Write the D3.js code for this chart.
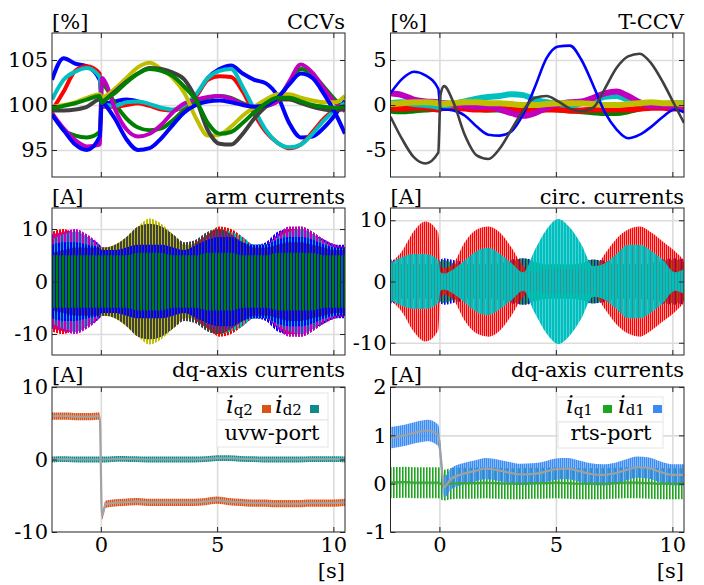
<!DOCTYPE html>
<html>
<head>
<meta charset="utf-8">
<script src="https://cdn.jsdelivr.net/npm/d3@7"></script>
<style>body{margin:0;background:#fff}</style>
</head>
<body>
<script>
'use strict';

const W = 704;
const H = 585;

// ---- data ----
// time base [s] for the upper four panels
const tTop = [-2.1, -1.6, -1.1, -0.6, -0.05, 0.05, 0.2, 0.6, 1.1, 1.6, 2.1, 2.6, 3.1, 3.6,
  4.1, 4.6, 5.1, 5.6, 6.1, 6.6, 7.1, 7.6, 8.1, 8.6, 9.1, 9.6, 10.1, 10.5];
// time base [s] for the dq panels
const tDq = [-2.1, -1.5, -1, -0.5, -0.05, 0.05, 0.2, 0.5, 1, 1.5, 2, 2.5, 3, 3.5, 4,
  4.5, 5, 5.5, 6, 6.5, 7, 7.5, 8, 8.5, 9, 9.5, 10, 10.5];

const xTicks = [0, 5, 10];

// CCVs [%]  (arm order b g r c m y k b g)
const ccvBlueA  = [102.8, 105.2, 104.6, 104.3, 102.8, 100.2, 100.2, 100.4, 100.6, 100.4, 100.0, 99.6, 99.4, 99.9, 101.0, 103.0, 104.0, 104.4, 103.5, 102.8, 102.4, 101.0, 98.0, 96.4, 96.5, 97.5, 99.0, 100.5];
const ccvGreenA = [99.1, 97.2, 96.6, 96.4, 97.0, 102.4, 102.0, 100.2, 98.5, 97.5, 97.2, 97.4, 98.3, 99.5, 100.3, 100.8, 101.0, 100.8, 100.2, 99.8, 99.9, 100.6, 102.5, 104.0, 103.4, 102.0, 100.5, 99.5];
const ccvRed    = [99.4, 101.5, 103.8, 104.3, 103.5, 99.8, 99.8, 99.8, 100.0, 100.2, 99.9, 99.5, 99.4, 99.9, 101.0, 102.8, 103.2, 103.1, 101.5, 99.0, 97.0, 95.8, 95.2, 95.6, 97.0, 98.5, 99.6, 100.1];
const ccvCyan   = [100.6, 102.8, 103.7, 104.1, 103.1, 100.0, 100.0, 99.9, 100.3, 100.4, 100.1, 99.7, 99.5, 100.0, 101.2, 103.0, 103.8, 104.0, 102.0, 99.5, 97.2, 95.8, 95.3, 95.6, 96.8, 98.3, 99.5, 100.2];
const ccvMag    = [99.1, 97.4, 96.1, 95.4, 95.6, 103.0, 102.5, 99.6, 97.3, 96.5, 96.8, 97.8, 99.2, 100.2, 100.6, 100.9, 101.0, 100.7, 100.1, 99.8, 99.9, 100.4, 102.6, 104.5, 103.6, 101.8, 100.2, 99.3];
const ccvYellow = [99.8, 100.0, 100.3, 100.8, 101.2, 100.8, 101.0, 101.8, 103.0, 104.2, 104.7, 104.0, 103.0, 101.3, 98.5, 96.6, 96.7, 97.6, 98.8, 99.8, 100.6, 101.2, 101.2, 100.8, 100.5, 100.3, 100.3, 101.0];
const ccvGray   = [99.4, 99.4, 99.5, 99.8, 100.6, 100.3, 100.6, 101.5, 102.6, 103.5, 104.1, 104.0, 103.6, 102.8, 100.6, 97.2, 95.7, 95.6, 96.8, 98.5, 99.8, 100.6, 100.6, 100.2, 99.8, 99.5, 99.4, 99.6];
const ccvBlueB  = [98.9, 97.2, 95.6, 95.0, 96.5, 100.5, 100.0, 98.5, 96.2, 95.0, 95.2, 96.3, 97.8, 99.2, 100.0, 100.4, 100.5, 100.3, 100.0, 99.8, 100.0, 100.8, 102.3, 103.5, 103.0, 101.2, 99.0, 96.8];
const ccvGreenB = [99.6, 99.9, 100.2, 100.6, 101.0, 100.2, 100.6, 101.3, 102.5, 103.5, 104.0, 103.8, 103.2, 102.0, 100.5, 98.0, 96.8, 97.0, 98.0, 99.2, 100.2, 100.8, 100.8, 100.4, 100.0, 99.8, 99.7, 99.9];

// T-CCV [%]
const tcGreen  = [-0.6, -0.7, -0.6, -0.5, -0.4, -0.3, -0.3, -0.3, -0.3, -0.4, -0.5, -0.5, -0.6, -0.4, -0.3, -0.4, -0.5, -0.6, -0.7, -0.8, -0.9, -0.9, -0.7, -0.4, -0.2, -0.2, -0.3, -0.3];
const tcRed    = [-0.3, -0.4, -0.3, -0.3, -0.5, -0.4, -0.3, -0.3, -0.4, -0.5, -0.5, -0.4, -0.5, -0.6, -0.6, -0.5, -0.5, -0.6, -0.6, -0.5, -0.5, -0.5, -0.5, -0.4, -0.3, -0.3, -0.4, -0.4];
const tcCyan   = [0.2, 0.3, 0.1, 0.0, -0.2, -0.3, -0.2, 0.1, 0.4, 0.7, 0.9, 1.0, 1.2, 1.1, 0.6, 0.3, 0.1, 0.0, 0.2, 0.5, 0.9, 1.0, 0.6, 0.2, 0.0, 0.1, 0.2, 0.2];
const tcMag    = [1.3, 1.1, 0.6, 0.4, 0.3, 0.2, 0.2, 0.1, -0.1, -0.2, -0.2, -0.5, -0.9, -1.2, -0.9, -0.3, 0.1, 0.3, 0.4, 0.8, 1.3, 1.5, 1.0, 0.3, -0.1, -0.1, -0.2, -0.3];
const tcYellow = [0.1, 0.2, 0.3, 0.3, 0.2, 0.1, 0.1, 0.2, 0.3, 0.3, 0.2, 0.2, 0.1, 0.0, 0.0, 0.1, 0.2, 0.2, 0.2, 0.1, 0.0, 0.0, 0.1, 0.2, 0.3, 0.2, 0.2, 0.1];
const tcBlue   = [1.3, 2.9, 3.7, 3.3, 1.8, -0.5, -0.5, -0.6, -1.2, -2.4, -3.3, -3.4, -2.9, -1.0, 2.0, 5.2, 6.5, 6.6, 5.0, 2.2, -0.8, -2.7, -3.7, -3.3, -2.4, -1.3, -0.5, -0.8];
const tcGray   = [-1.3, -3.8, -5.8, -6.5, -5.3, 1.2, 2.1, 0.3, -3.4, -5.6, -6.0, -4.8, -2.7, -0.6, 0.8, 1.0, 0.4, -0.4, -0.7, -0.3, 1.8, 4.1, 5.4, 5.7, 4.6, 2.5, 0.0, -2.0];

// arm currents: oscillation envelope amplitude [A]
const armBlueA  = [7.5, 9, 9.5, 8.5, 7, 6.5, 6.5, 6, 6.5, 7, 7, 6.5, 6, 6, 7.5, 9, 9.5, 9, 8, 7, 7.5, 9.5, 10, 10, 9, 8, 7, 7];
const armGreenA = [6, 7, 7, 6.5, 6, 6, 6, 6.5, 8, 9.5, 10, 9, 7.5, 6, 6.5, 7, 7, 6.5, 6, 6, 7, 8.5, 10, 10.5, 9.5, 8, 7, 6.5];
const armRed    = [9.5, 10, 9, 8, 6.5, 6, 6, 5.5, 6, 6.5, 7, 6.5, 6, 6, 7.5, 9, 10.5, 10, 8.5, 7, 7, 8.5, 10, 10, 9, 7.5, 6.5, 6.5];
const armCyan   = [8, 9, 9.5, 8.5, 6.5, 6, 6, 5.5, 6, 6.5, 6.5, 6, 6, 6.5, 8, 9.5, 10, 9.5, 8.5, 7, 7, 8.5, 9.5, 10, 9, 7.5, 6.5, 6];
const armMag    = [9, 9.5, 10, 9, 7, 6.5, 6.5, 6.5, 8, 10, 11, 10, 8, 6.5, 7, 8.5, 9.5, 9, 7.5, 6.5, 7, 9, 10.5, 10.5, 9.5, 8, 7, 6.5];
const armYellow = [5.5, 6, 6.5, 6.5, 6.5, 6.5, 6.5, 7, 8.5, 10.5, 12, 11, 9, 7, 7, 8, 8, 7.5, 7, 6.5, 6.5, 7, 7.5, 7.5, 7, 6.5, 6, 6];
const armGray   = [5.5, 6, 6.5, 6.5, 6.5, 6.5, 6.5, 7, 8.5, 10.5, 11, 10.5, 9, 7.5, 8, 9.5, 10, 9, 7.5, 6.5, 6.5, 7, 7.5, 7.5, 7, 6.5, 6, 6];
const armBlueB  = [7, 7.5, 7.5, 7, 6.5, 6, 6, 6, 6.5, 7, 7, 7, 6.5, 6, 7, 8, 8.5, 8.5, 7.5, 7, 7, 8, 8.5, 8.5, 8, 7, 6.5, 6.5];
const armGreenB = [5, 5, 5, 5, 5, 5, 5, 5, 5, 5.5, 5.5, 5.5, 5, 5, 5, 5.5, 5.5, 5.5, 5, 5, 5, 5.5, 5.5, 5.5, 5.5, 5, 5, 5];

// circulating currents: envelope amplitude [A]
const circBlue  = [3.6, 3.4, 3.2, 3.2, 3.4, 3.6, 3.8, 3.5, 3.2, 3.2, 3.3, 3.4, 3.6, 3.8, 3.5, 3.2, 3.2, 3.2, 3.4, 3.6, 3.4, 3.2, 3.2, 3.3, 3.4, 3.6, 3.8, 3.6];
const circGreen = [3.0, 2.8, 2.8, 2.8, 3.0, 3.3, 3.5, 3.0, 2.8, 2.8, 2.8, 3.0, 3.3, 3.8, 3.2, 2.8, 2.8, 2.8, 3.0, 3.6, 3.2, 2.8, 2.8, 2.8, 3.0, 3.4, 3.6, 3.2];
const circRed   = [3, 5, 8.2, 9.8, 8, 2.5, 2.2, 3, 6.5, 8.5, 9, 8, 5.5, 2.5, 1.5, 2, 2, 2, 2, 2, 4.5, 7, 8.5, 9, 8, 6.5, 5, 3.5];
const circCyan  = [3, 4, 4.5, 4.5, 3.5, 1.5, 1.3, 2, 3.5, 5, 5.5, 4.5, 3, 1.5, 5.2, 8.5, 10.2, 8.8, 6, 2.5, 3, 4.5, 6, 6, 5, 3.5, 1.5, 2];

// dq-axis currents, uvw-port [A]
const iq2 = [6, 6, 5.9, 5.9, 6, -7.8, -6.2, -6, -5.9, -5.8, -5.9, -5.9, -5.9, -5.9, -5.9, -5.8, -5.6, -5.8, -5.9, -6, -6, -6.1, -6.1, -6.1, -6, -6, -6, -5.9];
const id2 = [0, 0.05, 0, 0, 0, 0, 0, 0.05, 0.1, 0.05, 0, 0, 0, 0, 0, 0.05, 0.2, 0.2, 0.1, 0.05, 0, 0, 0, 0, 0.05, 0.05, 0.05, 0];
// dq-axis currents, rts-port [A]
const iq1 = [0.02, 0.03, 0.02, 0.02, 0.02, 0, -0.03, 0, 0.01, 0.01, 0.02, 0.01, 0, 0, 0.01, 0.01, 0.02, 0.01, 0, 0, 0, 0.01, 0.02, 0.02, 0.01, 0, 0, 0];
const id1 = [0.95, 1.0, 1.06, 1.1, 1.0, 0.6, -0.07, 0.1, 0.2, 0.26, 0.31, 0.28, 0.23, 0.19, 0.2, 0.24, 0.3, 0.31, 0.26, 0.2, 0.18, 0.21, 0.28, 0.34, 0.32, 0.24, 0.18, 0.18];
/////////////////////////////////////////

const C = {
  b: '#0000ff', g: '#008000', r: '#ff0000', c: '#00bfbf',
  m: '#bf00bf', y: '#bfbf00', k: '#404040'
};
const font = '"DejaVu Serif", "Liberation Serif", serif';

const svg = d3.select('body').append('svg')
  .attr('width', W).attr('height', H)
  .style('font-family', font);
const defs = svg.append('defs');

const cols = [[52, 345], [390.5, 684]];
const rows = [[33, 177], [208, 355], [387, 532]];

// vertical stripe fill, reads like a fast oscillation
function stripes(id, color, period, width, offset) {
  const p = defs.append('pattern').attr('id', id)
    .attr('patternUnits', 'userSpaceOnUse')
    .attr('x', offset).attr('y', 0)
    .attr('width', period).attr('height', 4);
  p.append('rect').attr('width', width).attr('height', 4).attr('fill', color);
  return `url(#${id})`;
}

function panel(c, r, yDom, yTicks, unit, title) {
  const [x0, x1] = cols[c];
  const [y0, y1] = rows[r];
  const x = d3.scaleLinear().domain([-2.1, 10.5]).range([x0, x1]);
  const y = d3.scaleLinear().domain(yDom).range([y1, y0]);
  const id = `clip${c}${r}`;
  defs.append('clipPath').attr('id', id).append('rect')
    .attr('x', x0).attr('y', y0).attr('width', x1 - x0).attr('height', y1 - y0);

  const g = svg.append('g');
  // grid
  const grid = g.append('g').attr('clip-path', `url(#${id})`);
  grid.append('g').attr('transform', `translate(0,${y1})`)
    .call(d3.axisBottom(x).tickValues(xTicks).tickSize(-(y1 - y0)).tickFormat(''));
  grid.append('g').attr('transform', `translate(${x0},0)`)
    .call(d3.axisLeft(y).tickValues(yTicks).tickSize(-(x1 - x0)).tickFormat(''));
  grid.selectAll('.domain').remove();
  grid.selectAll('line').attr('stroke', '#dcdcdc').attr('stroke-width', 1.6);

  const plot = g.append('g').attr('clip-path', `url(#${id})`);
  const frame = g.append('g');

  frame.append('rect').attr('x', x0).attr('y', y0)
    .attr('width', x1 - x0).attr('height', y1 - y0)
    .attr('fill', 'none').attr('stroke', '#262626').attr('stroke-width', 1);

  const yl = frame.append('g').attr('transform', `translate(${x0},0)`)
    .call(d3.axisLeft(y).tickValues(yTicks).tickSize(-5).tickPadding(4));
  frame.append('g').attr('transform', `translate(${x1},0)`)
    .call(d3.axisRight(y).tickValues(yTicks).tickSize(-5).tickFormat(''));
  frame.append('g').attr('transform', `translate(0,${y0})`)
    .call(d3.axisTop(x).tickValues(xTicks).tickSize(-5).tickFormat(''));
  frame.append('g').attr('transform', `translate(0,${y1})`)
    .call(d3.axisBottom(x).tickValues(xTicks).tickSize(-5).tickPadding(5)
      .tickFormat(r === 2 ? d3.format('d') : ''));
  frame.selectAll('.domain').remove();
  frame.selectAll('.tick line').attr('stroke', '#262626');
  frame.selectAll('g').attr('font-family', font).attr('font-size', 21);
  frame.selectAll('.tick text').attr('fill', '#000');
  yl.selectAll('.tick text').text((d) => d3.format('d')(d).replace('−', '-'));

  frame.append('text').attr('x', x0).attr('y', y0 - (r === 2 ? 5 : 4))
    .attr('font-size', 21).text(unit);
  frame.append('text').attr('x', x1).attr('y', y0 - (r === 2 ? 10 : 4))
    .attr('text-anchor', 'end').attr('font-size', 21).text(title);
  if (r === 2) {
    frame.append('text').attr('x', x1).attr('y', y1 + 46)
      .attr('text-anchor', 'end').attr('font-size', 21).text('[s]');
  }
  return { x, y, plot, frame };
}

function drawLines(p, tArr, series, width) {
  const line = d3.line()
    .x((d, i) => p.x(tArr[i]))
    .y((d) => p.y(d))
    .curve(d3.curveMonotoneX);
  series.forEach(([vals, col]) => {
    p.plot.append('path').attr('d', line(vals))
      .attr('fill', 'none').attr('stroke', col)
      .attr('stroke-width', width).attr('stroke-linejoin', 'round');
  });
}

function drawEnvelopes(p, tArr, series, key) {
  const area = d3.area()
    .x((d, i) => p.x(tArr[i]))
    .y0((d) => p.y(-d))
    .y1((d) => p.y(d))
    .curve(d3.curveMonotoneX);
  series.forEach(([vals, col, per, wid, off], i) => {
    p.plot.append('path').attr('d', area(vals))
      .attr('fill', stripes(`${key}${i}`, col, per, wid, off));
  });
}

function drawBand(p, tArr, vals, noise, fill) {
  const area = d3.area()
    .x((d, i) => p.x(tArr[i]))
    .y0((d) => p.y(d - noise))
    .y1((d) => p.y(d + noise))
    .curve(d3.curveMonotoneX);
  p.plot.append('path').attr('d', area(vals)).attr('fill', fill);
}

function drawMean(p, tArr, vals, col) {
  drawLines(p, tArr, [[vals, col]], 2.2);
}

// ---- CCVs ----
const p1 = panel(0, 0, [92, 108], [95, 100, 105], '[%]', 'CCVs');
drawLines(p1, tTop, [
  [ccvBlueA, C.b], [ccvGreenA, C.g], [ccvRed, C.r], [ccvCyan, C.c], [ccvMag, C.m],
  [ccvYellow, C.y], [ccvGray, C.k], [ccvBlueB, C.b], [ccvGreenB, C.g]
], 4);

// ---- T-CCV ----
const p2 = panel(1, 0, [-8, 8], [-5, 0, 5], '[%]', 'T-CCV');
drawLines(p2, tTop, [
  [tcGreen, C.g], [tcRed, C.r], [tcCyan, C.c], [tcMag, C.m], [tcYellow, C.y]
], 6);
drawLines(p2, tTop, [[tcBlue, C.b], [tcGray, C.k]], 2.6);

// ---- arm currents ----
const p3 = panel(0, 1, [-14, 14], [-10, 0, 10], '[A]', 'arm currents');
drawEnvelopes(p3, tTop, [
  [armBlueA, C.b], [armGreenA, C.g], [armRed, C.r], [armCyan, C.c], [armMag, C.m],
  [armYellow, C.y], [armGray, C.k], [armBlueB, C.b], [armGreenB, C.g]
].map(([v, col], i) => [v, col, 3, 2, i % 3]), 'arm');

// ---- circ. currents ----
const p4 = panel(1, 1, [-12, 12], [-10, 0, 10], '[A]', 'circ. currents');
drawEnvelopes(p4, tTop, [
  [circBlue, C.b, 3, 1.6, 0],
  [circGreen, C.g, 3, 1.6, 1.5],
  [circRed, C.r, 2, 1.4, 0],
  [circCyan, C.c, 3, 2.7, 0]
], 'circ');

// ---- dq-axis currents, uvw-port ----
const p5 = panel(0, 2, [-10, 10], [-10, 0, 10], '[A]', 'dq-axis currents');
drawBand(p5, tDq, iq2, 0.5, stripes('iq2', '#d95319', 2, 1.6, 0));
drawBand(p5, tDq, id2, 0.4, stripes('id2', '#0e8a8a', 2, 1.6, 0));
drawMean(p5, tDq, iq2, '#a3a3a3');
drawMean(p5, tDq, id2, '#8aa5a5');

// ---- dq-axis currents, rts-port ----
const p6 = panel(1, 2, [-1, 2], [-1, 0, 1, 2], '[A]', 'dq-axis currents');
drawBand(p6, tDq, iq1, 0.32, stripes('iq1', '#1ea51e', 3, 1.6, 0));
drawBand(p6, tDq, id1, 0.22, stripes('id1', '#3a8cf5', 2, 1.6, 0));
drawMean(p6, tDq, iq1, '#3aa53a');
drawMean(p6, tDq, id1, '#a0a0a0');

// ---- legends ----
function legend(p, box1, box2, items, label, labelX) {
  [box1, box2].forEach((b) => {
    p.frame.append('rect').attr('x', b[0]).attr('y', b[1])
      .attr('width', b[2]).attr('height', b[3])
      .attr('fill', '#fff').attr('stroke', '#e6e6e6');
  });
  items.forEach(([sx, sub, col, qx]) => {
    const tx = p.frame.append('text').attr('x', sx).attr('y', 413);
    tx.append('tspan').attr('font-style', 'italic').attr('font-size', 24).text('i');
    tx.append('tspan').attr('dy', 2).attr('font-size', 15).text(sub);
    p.frame.append('rect').attr('x', qx).attr('y', 405)
      .attr('width', 9).attr('height', 8).attr('fill', col);
  });
  p.frame.append('text').attr('x', labelX).attr('y', 440)
    .attr('text-anchor', 'middle').attr('font-size', 21).text(label);
}

legend(p5, [217, 393, 111, 27], [217, 420, 111, 27], [
  [226, 'q2', '#d95319', 262],
  [275, 'd2', '#0e8a8a', 310]
], 'uvw-port', 272);

legend(p6, [557, 397, 106, 25], [558, 422, 105, 26], [
  [566, 'q1', '#1ea51e', 603],
  [618, 'd1', '#3a8cf5', 653]
], 'rts-port', 611);
</script>
</body>
</html>
